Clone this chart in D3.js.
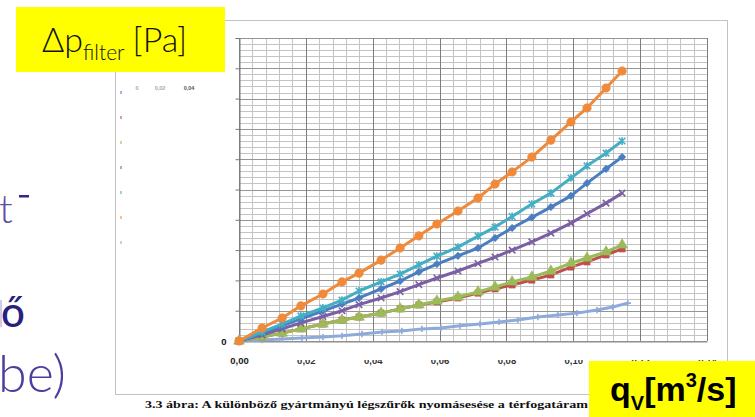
<!DOCTYPE html>
<html>
<head>
<meta charset="utf-8">
<script src="https://cdn.jsdelivr.net/npm/d3@7"></script>
<style>
  body { margin: 0; background: #fff; }
  figure { margin: 0; }
  svg { display: block; }
</style>
</head>
<body>
<figure></figure>
<script>
// flow rates shared by the first six filters [m3/s]
const flowRates = [0, 0.0069, 0.0129, 0.0185, 0.0251, 0.0308, 0.0359, 0.0425, 0.0482, 0.0538, 0.0592,
  0.0655, 0.0715, 0.0766, 0.0817, 0.0876, 0.0933, 0.0993, 0.1041, 0.1098, 0.1146];
// the seventh filter was measured at slightly different flow rates
const flowRates7 = [0, 0.0069, 0.0129, 0.0188, 0.0251, 0.0308, 0.0368, 0.0428, 0.0487, 0.0547, 0.0604,
  0.0661, 0.0721, 0.0778, 0.0834, 0.0894, 0.0954, 0.1011, 0.1071, 0.1118, 0.1163];

// pressure drop per filter (y axis has no printed units except 0)
const filter1 = [0, 26, 50, 73, 99, 122, 142, 172, 198, 228, 254, 281, 307, 340, 373, 408, 442, 479, 521, 568, 607];
const filter2 = [0, 13, 26, 40, 56, 69, 79, 92, 106, 119, 129, 142, 158, 172, 185, 201, 218, 244, 261, 284, 304];
const filter3 = [0, 13, 26, 40, 56, 69, 79, 92, 106, 119, 132, 145, 162, 178, 195, 211, 231, 257, 274, 294, 317];
const filter4 = [0, 20, 40, 60, 81, 100, 120, 142, 163, 186, 208, 231, 256, 277, 300, 327, 356, 389, 420, 455, 488];
const filter5 = [0, 30, 56, 83, 109, 135, 165, 195, 221, 251, 280, 310, 346, 376, 411, 452, 488, 538, 578, 620, 660];
const filter6 = [0, 43, 76, 116, 155, 195, 224, 267, 307, 347, 386, 429, 472, 518, 558, 607, 663, 723, 769, 835, 891];
const filter7 = [0, 3, 7, 10, 13, 17, 23, 30, 33, 40, 43, 50, 56, 63, 69, 79, 86, 92, 102, 112, 125];

const xTicks = [0, 0.02, 0.04, 0.06, 0.08, 0.10, 0.12, 0.14];
const yTicks = [0, 100, 200, 300, 400, 500, 600, 700, 800, 900, 1000];
const legendTicks = ['0', '0,02', '0,04'];
const caption = '3.3 ábra: A különböző gyártmányú légszűrők nyomásesése a térfogatáram';

(() => {
  const totalWidth = 755;
  const totalHeight = 417;
  const plot = {left: 239, right: 707, top: 38, bottom: 341};

  const svg = d3.select('figure').append('svg')
    .attr('width', totalWidth)
    .attr('height', totalHeight)
    .style('font-family', 'Liberation Sans, Arial, sans-serif');

  // frame of the pasted chart picture
  svg.append('rect')
    .attr('x', 115.5).attr('y', 20.5)
    .attr('width', 612).attr('height', 374)
    .attr('fill', '#fff')
    .attr('stroke', '#c2c2c2');

  const x = d3.scaleLinear().domain([0, 0.14]).range([plot.left, plot.right]);
  const y = d3.scaleLinear().domain([0, 1000]).range([plot.bottom, plot.top]);

  const crisp = (v) => Math.round(v) + 0.5;
  const grid = svg.append('g');

  const minorX = d3.range(0, 36).map((i) => i * 0.004);
  const minorY = d3.range(0, 51).map((i) => i * 20);

  grid.selectAll('.hmin').data(minorY).join('line')
    .attr('x1', plot.left).attr('x2', plot.right)
    .attr('y1', (d) => crisp(y(d))).attr('y2', (d) => crisp(y(d)))
    .attr('stroke', '#c4c4c4');
  grid.selectAll('.vmin').data(minorX).join('line')
    .attr('y1', plot.top).attr('y2', plot.bottom)
    .attr('x1', (d) => crisp(x(d))).attr('x2', (d) => crisp(x(d)))
    .attr('stroke', '#c4c4c4');
  grid.selectAll('.hmaj').data(yTicks).join('line')
    .attr('x1', plot.left).attr('x2', plot.right)
    .attr('y1', (d) => crisp(y(d))).attr('y2', (d) => crisp(y(d)))
    .attr('stroke', '#959595');
  grid.selectAll('.vmaj').data(xTicks).join('line')
    .attr('y1', plot.top).attr('y2', plot.bottom)
    .attr('x1', (d) => crisp(x(d))).attr('x2', (d) => crisp(x(d)))
    .attr('stroke', '#7e7e7e');

  // axes
  const yAxis = svg.append('g')
    .attr('transform', 'translate(' + (plot.left + 0.5) + ',0)')
    .call(d3.axisLeft(y).tickValues(yTicks).tickSize(4).tickPadding(9)
      .tickFormat((d) => d === 0 ? '0' : ''));
  yAxis.select('.domain').attr('stroke', '#7a7a7a');
  yAxis.selectAll('.tick line').attr('stroke', '#7a7a7a');
  yAxis.selectAll('text').attr('font-size', 9.5).attr('font-weight', 'bold').attr('fill', '#111');

  const xAxis = svg.append('g')
    .attr('transform', 'translate(0,' + (plot.bottom + 0.5) + ')')
    .call(d3.axisBottom(x).tickValues(xTicks).tickSize(0).tickPadding(16)
      .tickFormat((d) => d3.format('.2f')(d).replace('.', ',')));
  xAxis.select('.domain').attr('stroke', '#8a8a8a');
  xAxis.selectAll('text')
    .attr('font-size', 9.5).attr('font-weight', 'bold').attr('fill', '#1a1a1a');
  // all labels but the first have their top cut off in the scanned picture
  xAxis.selectAll('.tick').filter((d) => d > 0).each(function (d) {
    const id = 'cut' + Math.round(d * 100);
    svg.append('clipPath').attr('id', id)
      .append('rect').attr('x', -20).attr('y', 18.5).attr('width', 40).attr('height', 12);
    d3.select(this).select('text')
      .attr('fill', '#333')
      .attr('clip-path', 'url(#' + id + ')');
  });

  // markers
  const xMark = {draw(ctx, size) {
    const r = Math.sqrt(size) / 2;
    ctx.moveTo(-r, -r); ctx.lineTo(r, r);
    ctx.moveTo(r, -r); ctx.lineTo(-r, r);
  }};
  const starMark = {draw(ctx, size) {
    const r = Math.sqrt(size) / 2;
    ctx.moveTo(-r, -r); ctx.lineTo(r, r);
    ctx.moveTo(r, -r); ctx.lineTo(-r, r);
    ctx.moveTo(0, -r * 1.2); ctx.lineTo(0, r * 1.2);
  }};
  const plusMark = {draw(ctx, size) {
    const r = Math.sqrt(size) / 2;
    ctx.moveTo(0, -r); ctx.lineTo(0, r);
    ctx.moveTo(-r, 0); ctx.lineTo(r, 0);
  }};
  const diamondMark = {draw(ctx, size) {
    const r = Math.sqrt(size) / 2 * 1.2;
    ctx.moveTo(0, -r); ctx.lineTo(r, 0); ctx.lineTo(0, r); ctx.lineTo(-r, 0);
    ctx.closePath();
  }};

  const series = [
    {xs: flowRates7, ys: filter7, color: '#8eaadb', mark: plusMark, size: 40, filled: false},
    {xs: flowRates, ys: filter2, color: '#c0504d', mark: d3.symbolSquare, size: 40, filled: true},
    {xs: flowRates, ys: filter3, color: '#9bbb59', mark: d3.symbolTriangle, size: 52, filled: true},
    {xs: flowRates, ys: filter4, color: '#7b5fa4', mark: xMark, size: 42, filled: false},
    {xs: flowRates, ys: filter1, color: '#4a7ec0', mark: diamondMark, size: 40, filled: true},
    {xs: flowRates, ys: filter5, color: '#44aec4', mark: starMark, size: 42, filled: false},
    {xs: flowRates, ys: filter6, color: '#f08a3a', mark: d3.symbolCircle, size: 58, filled: true}
  ];

  const line = d3.line()
    .x((d) => x(d[0]))
    .y((d) => y(d[1]));

  series.forEach((s) => {
    const pts = s.xs.map((v, i) => [v, s.ys[i]]);
    svg.append('path')
      .datum(pts)
      .attr('fill', 'none')
      .attr('stroke', s.color)
      .attr('stroke-width', 3)
      .attr('stroke-linejoin', 'round')
      .attr('d', line);
    svg.append('g').selectAll('path').data(pts).join('path')
      .attr('transform', (d) => 'translate(' + x(d[0]) + ',' + y(d[1]) + ')')
      .attr('d', d3.symbol().type(s.mark).size(s.size))
      .attr('fill', s.filled ? s.color : 'none')
      .attr('stroke', s.color)
      .attr('stroke-width', s.filled ? 0.5 : 1.6);
  });

  // faint leftovers of the original legend
  const legendColors = ['#4a7ec0', '#c0504d', '#9bbb59', '#7b5fa4', '#44aec4', '#f08a3a', '#8eaadb'];
  svg.append('g').selectAll('rect').data(legendColors).join('rect')
    .attr('x', 120).attr('y', (d, i) => 91 + i * 25)
    .attr('width', 2).attr('height', 3)
    .attr('fill', (d) => d).attr('opacity', 0.55);
  svg.append('g').selectAll('text').data(legendTicks).join('text')
    .attr('x', (d, i) => [137, 160, 189][i]).attr('y', 90)
    .attr('text-anchor', 'middle')
    .attr('font-size', 5.5)
    .attr('font-weight', 'bold')
    .attr('fill', (d, i) => i === 2 ? '#555' : '#aaa')
    .text((d) => d);

  // caption under the pasted chart
  svg.append('text')
    .attr('x', 145).attr('y', 408)
    .attr('font-family', 'Liberation Serif, Times New Roman, serif')
    .attr('font-weight', 'bold')
    .attr('font-size', 10)
    .attr('textLength', 443)
    .attr('lengthAdjust', 'spacingAndGlyphs')
    .attr('fill', '#111')
    .text(caption);

  // slide text cut off on the left
  const slideFont = 'Lato, Open Sans, sans-serif';
  svg.append('text').attr('x', -1).attr('y', 223)
    .attr('font-family', slideFont).attr('font-weight', 300).attr('font-size', 40)
    .attr('fill', '#5a4fa4').text('t');
  svg.append('rect').attr('x', 19).attr('y', 195).attr('width', 10).attr('height', 2.5)
    .attr('fill', '#2e2888');
  svg.append('rect').attr('x', 0).attr('y', 300).attr('width', 2).attr('height', 27)
    .attr('fill', '#cfcbea');
  svg.append('text').attr('x', 1).attr('y', 327)
    .attr('font-family', slideFont).attr('font-weight', 500).attr('font-size', 42)
    .attr('fill', '#27207e').text('ő');
  svg.append('text').attr('x', -2).attr('y', 392)
    .attr('font-family', slideFont).attr('font-weight', 300).attr('font-size', 52)
    .attr('fill', '#4a3e9e').text('be)');

  // yellow label for the y axis
  svg.append('rect').attr('x', 16).attr('y', 7).attr('width', 209).attr('height', 65)
    .attr('fill', '#ffff00');
  const yLab = svg.append('text').attr('x', 42).attr('y', 52)
    .attr('font-family', slideFont).attr('font-weight', 300).attr('font-size', 34)
    .attr('fill', '#111');
  yLab.append('tspan').text('Δp');
  yLab.append('tspan').attr('font-size', 21).attr('dy', 8).text('filter');
  yLab.append('tspan').attr('dy', -8).attr('dx', 8).text('[Pa]');

  // yellow label for the x axis
  svg.append('rect').attr('x', 589).attr('y', 361).attr('width', 166).attr('height', 56)
    .attr('fill', '#ffff00');
  const xLab = svg.append('text').attr('x', 610).attr('y', 401)
    .attr('font-family', 'Liberation Sans, Arial, sans-serif').attr('font-weight', 'bold')
    .attr('font-size', 34).attr('fill', '#000');
  xLab.append('tspan').text('q');
  xLab.append('tspan').attr('font-size', 20).attr('dy', 9).text('V');
  xLab.append('tspan').attr('dy', -9).text('[m');
  xLab.append('tspan').attr('font-size', 20).attr('dy', -14).text('3');
  xLab.append('tspan').attr('dy', 14).text('/s]');
})();
</script>
</body>
</html>
